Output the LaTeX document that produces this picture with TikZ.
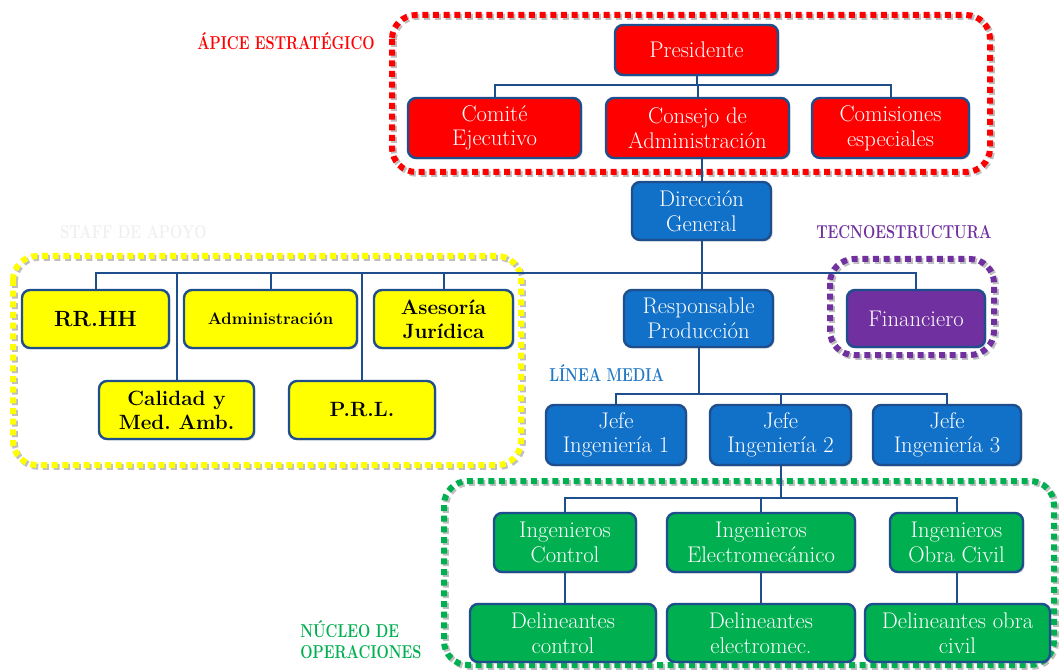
\documentclass[tikz,border=0pt]{standalone}
\usepackage{fontspec}
\usetikzlibrary{shadows}
\definecolor{bord}{HTML}{1F4E8C}
\definecolor{redc}{HTML}{FF0000}
\definecolor{bluec}{HTML}{1170C8}
\definecolor{yelc}{HTML}{FFFF00}
\definecolor{grnc}{HTML}{00B050}
\definecolor{purc}{HTML}{7030A0}
\definecolor{lblblue}{HTML}{2279C6}
\newcommand\mybox[7]{\node[#6, minimum width={(#4-#2)*0.75pt}, minimum height={(#5-#3)*0.75pt}] (#1) at ({(#2+#4)/2},{(#3+#5)/2}) {#7};}
\newcommand\cond[1]{\scalebox{0.78}[1]{#1}}
\tikzset{
  box/.style={draw=bord, line width=1.8pt, rounded corners=6pt, align=center, inner sep=0pt,
    text=white, font=\fontsize{17}{18.5}\selectfont,
    drop shadow={shadow xshift=1.2pt, shadow yshift=-1.2pt, opacity=0.25}},
  redbox/.style={box, fill=redc},
  bluebox/.style={box, fill=bluec},
  grnbox/.style={box, fill=grnc},
  purbox/.style={box, fill=purc},
  ybox/.style={box, fill=yelc, text=black, font=\bfseries\fontsize{15.5}{18}\selectfont},
  conn/.style={draw=bord, line width=1.5pt},
  grp/.style={line width=4.5pt, dash pattern=on 4.5pt off 3.5pt, rounded corners=18pt},
  grpsh/.style={grp, draw=black!25, shift={(1.4pt,-1.4pt)}},
  lbl/.style={font=\bfseries\fontsize{14}{16}\selectfont, inner sep=0pt}
}
\begin{document}
\begin{tikzpicture}[x=0.75pt,y=-0.75pt]
\useasboundingbox (0,0) rectangle (1060,670);
\fill[white] (0,0) rectangle (1060,670);
% group borders
\draw[grpsh] (392,15) rectangle (990,172);
\draw[grp, draw=redc] (392,15) rectangle (990,172);
\draw[grpsh] (13,256) rectangle (521,465);
\draw[grp, draw=yelc] (13,256) rectangle (521,465);
\draw[grpsh] (830,259) rectangle (994,355);
\draw[grp, draw=purc] (830,259) rectangle (994,355);
\draw[grpsh] (444,481) rectangle (1054,665);
\draw[grp, draw=grnc] (444,481) rectangle (1054,665);
% labels
\node[lbl, text=redc, anchor=west] (lapice) at (197,41) {\cond{ÁPICE ESTRATÉGICO}};
\node[lbl, text=white!94!black, anchor=west] (lstaff) at (60,232) {\cond{STAFF DE APOYO}};
\node[lbl, text=purc, anchor=west] (ltecno) at (816,232) {\cond{TECNOESTRUCTURA}};
\node[lbl, text=lblblue, anchor=west] (llinea) at (549,373) {\cond{LÍNEA MEDIA}};
\node[lbl, text=grnc, anchor=north west] (lnucleo) at (300,620) {\cond{\begin{tabular}{@{}l@{}}NÚCLEO DE\\OPERACIONES\end{tabular}}};
% boxes
\mybox{pres}{615}{25}{778}{75}{redbox}{Presidente}
\mybox{comite}{408}{98}{581}{158}{redbox}{Comité\\Ejecutivo}
\mybox{consejo}{606}{98}{789}{158}{redbox}{Consejo de\\Administración}
\mybox{comis}{812}{98}{969}{158}{redbox}{Comisiones\\especiales}
\mybox{dg}{632}{182}{771}{240}{bluebox}{Dirección\\General}
\mybox{rrhh}{22}{290}{169}{348}{ybox, font=\bfseries\fontsize{16.5}{18}\selectfont}{RR.HH}
\mybox{admin}{184}{290}{357}{348}{ybox, font=\bfseries\fontsize{12.5}{15}\selectfont}{Administración}
\mybox{ases}{374}{290}{513}{348}{ybox}{Asesoría\\Jurídica}
\mybox{calid}{99}{381}{254}{439}{ybox}{Calidad y\\Med.\ Amb.}
\mybox{prl}{289}{381}{435}{439}{ybox}{P.R.L.}
\mybox{rp}{624}{290}{773}{347}{bluebox}{Responsable\\Producción}
\mybox{fin}{847}{290}{985}{347}{purbox}{Financiero}
\mybox{ji1}{546}{405}{686}{465}{bluebox}{Jefe\\Ingeniería 1}
\mybox{ji2}{710}{405}{851}{465}{bluebox}{Jefe\\Ingeniería 2}
\mybox{ji3}{873}{405}{1021}{465}{bluebox}{Jefe\\Ingeniería 3}
\mybox{ic}{494}{513}{636}{572}{grnbox}{Ingenieros\\Control}
\mybox{ie}{667}{513}{855}{572}{grnbox}{Ingenieros\\Electromecánico}
\mybox{io}{890}{513}{1023}{572}{grnbox}{Ingenieros\\Obra Civil}
\mybox{dc}{470}{604}{656}{662}{grnbox}{Delineantes\\control}
\mybox{de}{667}{604}{855}{662}{grnbox}{Delineantes\\electromec.}
\mybox{do}{865}{604}{1050}{662}{grnbox}{Delineantes obra\\civil}
% connectors
\path (pres.south) ++(0,9) coordinate (h1);
\draw[conn] (pres.south) -- (h1);
\draw[conn] (comite.north) -- (comite.north |- h1) -- (comis.north |- h1) -- (comis.north);
\draw[conn] (consejo.north) -- (consejo.north |- h1);
\draw[conn] (dg.north) -- (dg.north |- consejo.south);
\path (dg.south) ++(0,32) coordinate (h2);
\draw[conn] (dg.south) -- (dg.south |- rp.north);
\draw[conn] (rrhh.north) -- (rrhh.north |- h2) -- (fin.north |- h2) -- (fin.north);
\draw[conn] (admin.north) -- (admin.north |- h2);
\draw[conn] (ases.north) -- (ases.north |- h2);
\draw[conn] (calid.north) -- (calid.north |- h2);
\draw[conn] (prl.north) -- (prl.north |- h2);
\path (rp.south) ++(0,46) coordinate (h3);
\draw[conn] (rp.south) -- (rp.south |- h3);
\draw[conn] (ji1.north) -- (ji1.north |- h3) -- (ji3.north |- h3) -- (ji3.north);
\draw[conn] (ji2.north) -- (ji2.north |- h3);
\path (ji2.south) ++(0,32) coordinate (h4);
\draw[conn] (ji2.south) -- (h4);
\draw[conn] (ic.north) -- (ic.north |- h4) -- (io.north |- h4) -- (io.north);
\draw[conn] (ie.north) -- (ie.north |- h4);
\draw[conn] (ic.south) -- (ic.south |- dc.north);
\draw[conn] (ie.south) -- (ie.south |- de.north);
\draw[conn] (io.south) -- (io.south |- do.north);
\end{tikzpicture}
\end{document}
